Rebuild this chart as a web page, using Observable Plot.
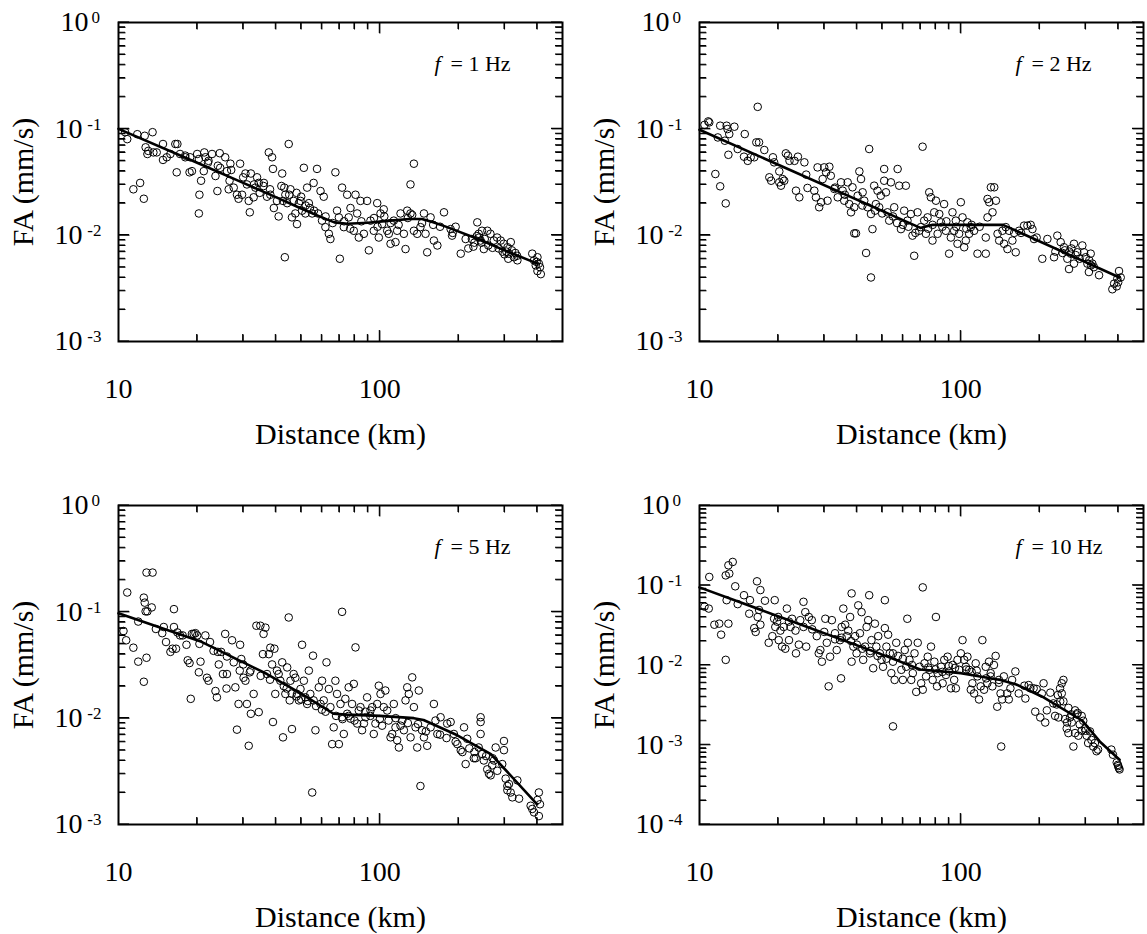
<!DOCTYPE html>
<html><head><meta charset="utf-8">
<script src="https://cdn.jsdelivr.net/npm/d3@7"></script>
<script src="https://cdn.jsdelivr.net/npm/@observablehq/plot@0.6"></script>
<style>
html,body{margin:0;padding:0;background:#fff;}
#wrap{position:relative;width:1147px;height:934px;overflow:hidden;background:#fff;}
.panel{position:absolute;}
.panel svg{max-width:none !important;}
.panel svg, .panel svg text{font-family:"Liberation Serif","Times New Roman",Times,serif !important;}
g[aria-label="flabel"] text{letter-spacing:1.2px;}
</style></head><body><div id="wrap"></div>
<script>
// ---------- DATA ----------
const xTickLabels = [10, 100];
const xMajorTicks = [100];
const xMinorTicks = [20,30,40,50,60,70,80,90,200,300,400];
const yExpTop = [0,-1,-2,-3];
const yExp10Hz = [0,-1,-2,-3,-4];
const freqLabels = ["1","2","5","10"];

// [distance (km), FA (mm/s)]
const fa1Hz = [[10.6,0.093],[10.8,0.080],[11.8,0.089],[12.6,0.086],[13.5,0.093],[12.7,0.067],[12.9,0.058],[13.0,0.062],[13.6,0.060],[11.4,0.027],[12.1,0.031],[12.5,0.022],[14.0,0.060],[14.8,0.072],[14.8,0.051],
[15.3,0.054],[15.8,0.058],[16.5,0.072],[16.8,0.072],[16.7,0.039],[17.2,0.058],[18.0,0.054],[18.8,0.054],[19.1,0.040],[18.7,0.039],[20.0,0.058],[20.3,0.052],[20.4,0.024],[20.3,0.016],[20.7,0.0325],[21.3,0.060],[21.5,0.054],[21.2,0.040],[22.1,0.050],[22.8,0.058],[23.5,0.036],[23.9,0.026],[24.4,0.059],[24.5,0.043],[25.6,0.054],[26.0,0.040],[26.4,0.027],[26.6,0.0325],[26.8,0.047],[27.6,0.028],[28.4,0.024],[28.8,0.022],[29.2,0.047],[29.7,0.024],[30.6,0.038],[31.0,0.030],[31.5,0.021],[31.8,0.0164],[32.1,0.038],[32.9,0.0227],[33.4,0.028],[33.9,0.035],[34.4,0.031],[34.7,0.025],[35.9,0.029],[37.0,0.023],[37.6,0.060],[38.1,0.024],[38.7,0.054],[39.3,0.018],[39.0,0.042],[40.4,0.021],[41.0,0.015],[42.3,0.038],[42.6,0.021],[43.1,0.028],[43.5,0.024],[43.3,0.0062],[44.2,0.020],[44.8,0.072],[45.5,0.027],[46.1,0.0147],[46.8,0.021],[47.5,0.016],[48.2,0.0127],[49.0,0.020],[49.7,0.021],[50.4,0.017],[51.2,0.043],[51.9,0.016],[52.7,0.028],[53.5,0.020],[55.1,0.016],[55.8,0.031],[57.5,0.042],[59.3,0.026],[60.1,0.0137],[61.0,0.023],[61.9,0.0119],[63.8,0.0103],[64.7,0.0092],[67.6,0.039],[68.6,0.017],[69.7,0.0147],[70.3,0.0060],[71.7,0.028],[72.8,0.0119],[75.0,0.024],[76.0,0.0147],[77.2,0.018],[79.5,0.011],[80.7,0.024],[81.9,0.016],[83.1,0.0095],[84.3,0.021],[86.9,0.0103],[89.4,0.021],[90.8,0.0072],[92.1,0.0137],[94.8,0.011],[97.7,0.020],[99.1,0.0095],[100.6,0.016],[102,0.0127],[103.5,0.0175],[106.7,0.011],[108.2,0.0103],[109.9,0.0083],[113.1,0.0137],[114.8,0.0086],[116.5,0.011],[120,0.016],[123.6,0.0103],[125.4,0.0074],[127.3,0.017],[131,0.016],[131,0.030],[135,0.047],[135,0.011],[139,0.0103],[143,0.0119],[147.5,0.016],[149.6,0.0103],[151.8,0.0069],[156.4,0.0147],[161,0.0089],[166,0.008],[176,0.0164],[186.6,0.0114],[189,0.0099],[204,0.0067],[213,0.0092],
[236,0.0132],[239,0.0103],[243,0.0089],[246,0.011],[258,0.011],[265,0.0103],[273,0.0089],[250,0.0074],[281,0.0095],[290,0.0089],[298,0.0083],[308,0.0077],[317,0.0086],[312,0.0067],[326,0.0062],[336,0.0058],[383,0.0067],[389,0.0058],[401,0.0062],[406,0.0054],[410,0.0050],[413,0.0043],[401,0.0046],
[225,0.0092],[230,0.0085],[235,0.0098],[228,0.0078],[240,0.0095],[245,0.0085],[252,0.0092],[218,0.0075],[260,0.0080],[270,0.0076],[285,0.0075],[295,0.0070],[305,0.0070],[320,0.0072],[330,0.0068],[300,0.0066],[310,0.0060],[335,0.0064],[395,0.0052],[398,0.0056],
[85,0.0135],[95,0.0145],[98,0.012],[104,0.015],[110,0.013],[118,0.0125],[128,0.0145],[133,0.0155],[145,0.013],[160,0.0125],[170,0.012],[195,0.012],[190,0.0105],
[45,0.024],[48,0.025],[50,0.023],[52,0.019],[54,0.018],[56,0.017],[58,0.016],[62,0.015],[66,0.013],[73,0.0135],[77,0.0115],[30,0.035],[33,0.030],[36,0.031],[38,0.027],[42,0.029],[24,0.045],[27,0.041],[22,0.048],[18,0.056]];

const fa2Hz = [[10.45,0.109],[10.8,0.1175],[10.9,0.115],[11.5,0.0376],[11.75,0.083],[12.0,0.107],[12.0,0.0288],[12.5,0.0773],[12.6,0.0199],[12.7,0.107],[12.8,0.0995],[13.0,0.0893],[12.9,0.057],[13.6,0.1047],[14.0,0.0646],[14.9,0.0893],[14.8,0.0547],[15.3,0.050],[15.7,0.054],[16.2,0.054],[16.5,0.0746],[16.7,0.161],[16.9,0.0746],[17.7,0.0632],[18.5,0.035],[18.8,0.0325],[19.1,0.054],[19.3,0.0484],[20.2,0.0314],[20.2,0.0398],[20.5,0.0292],[20.8,0.0337],[21.1,0.0325],[21.4,0.0588],[21.8,0.0559],[22.1,0.050],[23.1,0.050],[23.4,0.0262],[23.8,0.0547],[24.1,0.0227],[25.2,0.0484],[25.6,0.0371],[25.9,0.0278],[27.5,0.0262],[27.9,0.0227],[28.3,0.0434],[28.7,0.0183],[29.2,0.0204],[29.6,0.0337],[30.0,0.0434],[30.5,0.039],[30.9,0.0211],[31.4,0.044],[31.8,0.0362],[32.8,0.0272],[33.8,0.0227],[34.8,0.0314],[35.3,0.0262],[35.8,0.0211],[36.9,0.0314],[37.4,0.0196],[38.0,0.0164],[38.5,0.0282],[39.1,0.0183],[39.1,0.0104],[39.7,0.0104],[40.3,0.0235],[40.9,0.0398],[41.5,0.0337],[42.1,0.0253],[42.7,0.0211],[43.4,0.0068],[44.0,0.0183],[44.6,0.0646],[45.3,0.0040],[45.3,0.0158],[45.9,0.0114],[46.6,0.0292],[47.3,0.0196],[48.0,0.0262],[48.7,0.0183],[49.4,0.0235],[50.9,0.0419],[50.9,0.0325],[51.7,0.0253],[52.4,0.0164],[53.2,0.0137],[54.0,0.0314],[55.6,0.0183],[57.3,0.0419],[58.1,0.0292],[59.0,0.0114],[60.7,0.0170],[61.6,0.0292],[62.5,0.0137],[64.4,0.0158],[65.3,0.0099],[66.3,0.0064],[68.3,0.0164],[69.3,0.011],[70.3,0.0119],[71.4,0.0679],[72.4,0.0137],[73.5,0.0103],[74.6,0.0147],[75.7,0.0253],[76.8,0.0227],[77.9,0.0089],[79.1,0.0164],[80.3,0.0211],[81.5,0.0103],[82.7,0.0158],[83.9,0.0132],[86.3,0.0196],[87.6,0.011],[90.2,0.0067],[91.6,0.0095],[92.9,0.0164],[94.3,0.011],[95.7,0.0137],[97.1,0.0083],[98.5,0.0103],[100,0.0204],[101.5,0.0147],[103,0.0077],[104.5,0.0089],[106,0.0132],[107.6,0.0103],[109.2,0.0119],[112.4,0.011],[115.8,0.0067],[124.6,0.0095],[124.6,0.0067],[126.5,0.0147],[126.5,0.0219],[128.4,0.0204],[130.3,0.0282],[132.2,0.0164],[134.2,0.0282],[136.2,0.0211],[138.2,0.0103],[140.2,0.0089],[144.3,0.011],[146.4,0.0083],[148.6,0.0119],[150.8,0.0074],[153,0.011],[157.5,0.0089],[162.2,0.0069],[167,0.011],[174.6,0.0123],[179.8,0.0123],[187.9,0.0114],[190.6,0.0092],[205,0.0060],[214.4,0.0092],[227.3,0.0062],[234,0.0099],[241,0.0086],[248,0.0077],[255.6,0.0060],[259.4,0.0048],[263.3,0.0067],[271,0.0083],[271,0.0054],[279,0.0069],[291.7,0.0080],[296,0.0069],[300.5,0.0062],[305,0.0054],[309,0.0045],[314,0.0067],[318.5,0.0054],[323,0.0050],[338,0.0042],[380,0.0031],[386,0.0035],[397,0.0039],[403,0.0046],[409,0.0040],
[230,0.0070],[245,0.0068],[250,0.0072],[260,0.0070],[265,0.0075],[275,0.0065],[285,0.0060],[310,0.0058],[315,0.0052],[400,0.0036],[395,0.0033],
[33,0.028],[36,0.024],[42,0.019],[47,0.017],[50,0.016],[55,0.015],[57,0.013],[60,0.0125],[63,0.012],[67,0.0105],[75,0.0115],[78,0.0125],[85,0.012],[88,0.0135],[96,0.012],[105,0.0115],[110,0.0125],[118,0.012],[160,0.0105],[170,0.0105],[185,0.0125],[195,0.0095]];

const fa5Hz = [[10.45,0.066],[10.7,0.054],[10.8,0.152],[11.4,0.046],[11.9,0.081],[11.9,0.034],[12.5,0.022],[12.5,0.136],[12.6,0.122],[12.7,0.101],[12.8,0.234],[12.8,0.037],[12.9,0.101],[13.5,0.234],[13.4,0.110],[13.9,0.069],[14.7,0.063],[14.9,0.072],[15.2,0.052],[15.8,0.042],[16.1,0.045],[16.3,0.106],[16.3,0.072],[16.6,0.045],[16.8,0.064],[17.2,0.060],[17.6,0.060],[18.2,0.049],[18.4,0.035],[18.7,0.033],[18.9,0.0152],[19.1,0.062],[19.4,0.062],[19.7,0.063],[20.0,0.060],[20.3,0.027],[20.4,0.050],[20.6,0.034],[21.5,0.060],[21.8,0.024],[22.1,0.0225],[22.4,0.052],[23.1,0.043],[23.5,0.018],[23.8,0.0157],[24.2,0.032],[24.7,0.042],[25.1,0.026],[25.6,0.062],[25.9,0.019],[26.0,0.026],[27.2,0.054],[27.6,0.0335],[28.0,0.0195],[28.4,0.0078],[28.8,0.0136],[29.1,0.028],[29.2,0.049],[29.5,0.036],[30.1,0.024],[30.6,0.0225],[31.0,0.0136],[31.5,0.0055],[31.8,0.027],[32.1,0.011],[32.9,0.0169],[33.7,0.074],[34.4,0.0114],[34.9,0.074],[35.7,0.040],[35.9,0.062],[36.5,0.071],[37.0,0.026],[37.6,0.040],[38.1,0.046],[38.7,0.032],[39.0,0.0092],[39.5,0.045],[39.8,0.0169],[40.4,0.028],[41.0,0.026],[41.6,0.0225],[42.3,0.0335],[42.6,0.0066],[42.9,0.020],[43.5,0.0169],[44.2,0.030],[44.8,0.0885],[45.2,0.0147],[45.5,0.0225],[46.1,0.0079],[46.8,0.026],[47.5,0.024],[48.2,0.0169],[49.0,0.0147],[49.7,0.0188],[50.4,0.049],[51.2,0.0225],[51.9,0.0157],[52.7,0.0136],[53.5,0.028],[54.2,0.0169],[55.1,0.0020],[55.5,0.0387],[55.8,0.0147],[56.7,0.0077],[58.4,0.0195],[59.3,0.0136],[60.1,0.0225],[61.0,0.0147],[62.5,0.0335],[63.8,0.0188],[64.7,0.0127],[65.7,0.0057],[66.6,0.0082],[67.6,0.0225],[68.6,0.0169],[69.7,0.0057],[70.7,0.0136],[71.7,0.0102],[71.7,0.100],[72.8,0.0071],[73.8,0.0152],[75.0,0.011],[76.0,0.0195],[77.2,0.0099],[78.3,0.0136],[79.5,0.021],[80.7,0.0463],[81.9,0.0089],[83.1,0.0118],[84.3,0.0127],[85.5,0.0077],[86.9,0.0089],[88.1,0.0102],[89.4,0.0157],[92.1,0.0118],[93.5,0.0127],[94.8,0.0071],[96.2,0.0089],[97.7,0.0136],[99.1,0.0202],[100.6,0.0169],[102,0.0085],[103.5,0.0127],[105,0.0182],[106.7,0.0118],[109.9,0.0066],[111.5,0.0071],[113.1,0.0136],[114.8,0.0082],[116.5,0.0062],[118.3,0.0053],[121.8,0.0095],[123.6,0.0077],[125.4,0.0147],[127.3,0.0195],[129.1,0.0169],[131.1,0.0066],[133,0.0242],[135,0.0127],[137,0.0082],[139,0.0053],[141,0.0182],[143,0.0023],[145,0.0077],[147.5,0.0066],[151.8,0.0055],[156.4,0.0082],[161,0.0136],[163.3,0.0095],[166,0.0071],[170.8,0.0102],[181,0.0089],[186.6,0.0092],[192,0.0071],[198,0.0057],[204,0.0050],[207,0.0048],[210,0.0082],[213,0.0037],[216,0.0064],[229,0.0042],[232.6,0.0042],[239,0.0053],[243,0.0102],[243,0.0092],[243,0.0071],[246.5,0.0046],[250,0.0040],[257.6,0.0033],[261.6,0.0030],[265.5,0.0029],[269,0.0036],[273.5,0.0040],[277.5,0.0053],[281.5,0.0032],
[298.5,0.0061],[298.5,0.0050],[294,0.0037],[303,0.0027],[307.6,0.0023],[307.6,0.0021],[312,0.0024],[316.7,0.0020],[321.4,0.0018],[336,0.0026],[341,0.00175],[377.6,0.0015],[383,0.0014],[389,0.0013],[401,0.0017],[406,0.0020],[410,0.00155],[406,0.0012],
[44,0.019],[46,0.017],[48,0.016],[50,0.015],[53,0.0145],[57,0.013],[60,0.012],[62,0.0115],[68,0.0105],[72,0.0098],[76,0.0105],[80,0.0095],[88,0.0115],[92,0.0105],[100,0.0098],[108,0.0095],[115,0.0100],[120,0.0085],[128,0.009],[140,0.0088],[150,0.0075],[170,0.0070],[180,0.0065],[195,0.0060],[220,0.0052],[230,0.0048],[255,0.0044],[270,0.0042],[30,0.032],[32,0.028],[35,0.025],[38,0.023],[26,0.038],[24,0.042]];

const fa10Hz = [[10.45,0.054],[10.85,0.051],[10.9,0.127],[11.4,0.032],[11.9,0.033],[12.1,0.024],[12.6,0.0116],[12.6,0.133],[12.9,0.033],[12.7,0.065],[12.9,0.178],[13.0,0.140],[13.4,0.196],[13.7,0.097],[14.0,0.058],[14.8,0.075],[15.5,0.044],[15.6,0.065],[16.2,0.029],[16.4,0.026],[16.6,0.112],[16.7,0.040],[16.9,0.049],[17.1,0.087],[17.1,0.032],[17.8,0.064],[18.4,0.019],[19.0,0.023],[19.3,0.038],[19.4,0.065],[19.5,0.030],[19.8,0.035],[20.1,0.0205],[20.4,0.027],[20.7,0.017],[21.0,0.030],[21.3,0.016],[21.6,0.051],[22.0,0.0205],[22.3,0.030],[22.6,0.038],[23.3,0.027],[23.4,0.014],[24.0,0.018],[24.3,0.0365],[25.0,0.062],[25.4,0.046],[25.6,0.017],[26.2,0.040],[26.9,0.0365],[28.1,0.023],[28.6,0.014],[29.0,0.0154],[29.4,0.011],[30.3,0.038],[30.7,0.019],[31.2,0.0054],[31.6,0.0127],[32.1,0.0365],[33.0,0.025],[33.5,0.0154],[34.5,0.0205],[34.8,0.0068],[35.0,0.030],[35.5,0.051],[36.1,0.032],[36.6,0.023],[37.1,0.027],[37.7,0.040],[38.2,0.079],[38.2,0.011],[38.8,0.017],[39.4,0.023],[39.9,0.014],[40.5,0.056],[41.1,0.025],[41.7,0.046],[42.3,0.0116],[43.0,0.017],[43.6,0.030],[44.2,0.0365],[44.6,0.075],[44.9,0.014],[45.5,0.0205],[46.2,0.0091],[46.9,0.033],[47.5,0.017],[48.3,0.023],[49.0,0.014],[49.7,0.0116],[50.4,0.0095],[51.2,0.065],[51.2,0.029],[51.9,0.017],[52.7,0.024],[53.5,0.014],[54.2,0.0079],[55.0,0.0017],[55.0,0.011],[55.8,0.0065],[56.6,0.019],[57.5,0.013],[59.2,0.0087],[60.0,0.0065],[61.0,0.0154],[61.8,0.0095],[62.4,0.038],[62.7,0.019],[63.6,0.0116],[64.6,0.0065],[65.5,0.0079],[66.5,0.014],[67.5,0.0046],[68.4,0.019],[69.5,0.0095],[70.5,0.0059],[71.5,0.094],[71.5,0.0049],[72.6,0.0105],[73.6,0.0072],[74.7,0.0127],[75.8,0.0087],[76.9,0.017],[78.0,0.0065],[79.2,0.011],[80.3,0.040],[81.1,0.0054],[81.5,0.0079],[84.0,0.0095],[85.2,0.0059],[86.4,0.0116],[87.7,0.0075],[89.0,0.0127],[90.3,0.0083],[91.6,0.0051],[93.0,0.010],[94.3,0.0065],[95.7,0.0051],[97.1,0.0116],[98.6,0.0087],[100,0.014],[101.5,0.0205],[103,0.0116],[104.5,0.0095],[106,0.0127],[107.6,0.0087],[109.2,0.0049],[110.7,0.0059],[112.4,0.0044],[114,0.0105],[115.7,0.0072],[117.4,0.0037],[119.1,0.0054],[120.9,0.0205],[122.7,0.0049],[124.5,0.0095],[126.3,0.0059],[128.2,0.011],[130.1,0.0079],[132,0.0054],[133.9,0.010],[135.9,0.013],[137.8,0.0030],[139.9,0.0065],[141.9,0.0044],[142.7,0.00095],[143.9,0.0037],[146.1,0.0072],[150.4,0.0044],[152.6,0.0037],[154.8,0.0051],[157.1,0.0065],[161.7,0.0083],[166.6,0.0044],[176.6,0.0038],[181.8,0.0056],[184.5,0.0051],[189.9,0.0051],[192.6,0.0026],[201.3,0.0022],[204.2,0.0044],[207.3,0.0059],[210.3,0.0019],[213.4,0.0027],[226,0.0033],[229.4,0.0023],[232.8,0.0032],[236.3,0.0022],[239.7,0.0051],[243.3,0.0059],[243.3,0.0044],[246.9,0.0065],[246.9,0.0035],[250.5,0.0021],[254.2,0.0016],[258,0.0014],[258,0.0029],[261.8,0.0022],[265.7,0.0019],[269.6,0.00095],[273.6,0.0027],[273.6,0.0014],[277.6,0.0024],[281.7,0.0013],[290,0.0015],[294,0.0020],[298.6,0.0016],[303,0.0013],[307,0.00105],[312,0.00147],[316,0.00115],[321,0.00095],[325.7,0.00105],[330.5,0.00083],[335,0.00087],[376.6,0.00087],[382,0.00075],[399,0.00056],[402.6,0.00051],[405,0.00049],
[280,0.0025],[285,0.0018],[300,0.0015],[290,0.0023],[265,0.0024],[240,0.0035],[255,0.0019],[395,0.0006],[400,0.00054],[175,0.0055],[195,0.0050],[220,0.0045],[235,0.0042],
[60,0.012],[65,0.010],[75,0.0093],[80,0.0088],[85,0.0082],[90,0.0097],[95,0.0092],[105,0.0088],[110,0.0082],[115,0.0085],[125,0.0068],[130,0.0072],[140,0.0060],[45,0.015],[48,0.013],[52,0.012],[55,0.014],[42,0.016],[40,0.018],[38,0.020],[35,0.022],[33,0.021],[30,0.026],[27,0.028],[25,0.030],[22,0.035],[20,0.040]];

// fitted curves [distance, FA]
const fit1Hz = [[10,0.1],[20,0.048],[30,0.031],[40,0.0228],[50,0.0178],[60,0.0147],[67,0.0132],[75,0.0128],[90,0.0131],[110,0.0137],[130,0.0142],[145,0.0142],[160,0.0132],[181,0.0119],[243,0.0090],[300,0.0072],[401,0.0054]];
const fit2Hz = [[10,0.098],[70,0.0117],[78,0.0125],[145,0.0125],[405,0.0040]];
const fit5Hz = [[10,0.097],[20.5,0.053],[37,0.026],[50,0.017],[66.5,0.011],[75,0.0108],[100,0.0105],[135,0.0100],[147,0.0096],[198,0.0069],[266,0.0046],[400,0.00155]];
const fit10Hz = [[10,0.094],[22,0.0365],[49.5,0.0137],[70,0.0088],[100,0.0079],[142,0.0065],[163,0.0057],[205,0.0040],[292,0.0020],[340,0.0011],[405,0.00065]];

// ---------- DRAW ----------
const FONT = "'Liberation Serif','Times New Roman',Times,serif";
const ML = 118, MR = 4, MT = 22, PW = 444, PH = 319, MB = 115;
const W = ML + PW + MR, H = MT + PH + MB;
const MAJ = 11, MIN = 7;
const X_DOMAIN = [10, 500];

function panel(cfg) {
  const exps = cfg.exps;
  const yMin = Math.pow(10, d3.min(exps));
  const yMajor = exps.map(e => Math.pow(10, e));
  const yMinor = [];
  exps.filter(e => e < 0).forEach(e => { for (let k = 2; k <= 9; k++) yMinor.push(k * Math.pow(10, e)); });
  const expZero = exps.filter(e => e === 0);
  const expNeg = exps.filter(e => e < 0);

  // tick length expressed as a factor along each log axis (pixels -> decades)
  const decY = -d3.min(exps), decX = Math.log10(X_DOMAIN[1] / X_DOMAIN[0]);
  const fy = len => Math.pow(10, len * decY / PH);
  const fx = len => Math.pow(10, len * decX / PW);
  const tk = {stroke: "black", strokeWidth: 1.1};
  const xTicks = (vals, len) => [
    Plot.link(vals, {...tk, x1: d => d, x2: d => d, y1: () => yMin, y2: () => yMin * fy(len)}),
    Plot.link(vals, {...tk, x1: d => d, x2: d => d, y1: () => 1, y2: () => 1 / fy(len)})
  ];
  const yTicks = (vals, len) => [
    Plot.link(vals, {...tk, y1: d => d, y2: d => d, x1: () => X_DOMAIN[0], x2: () => X_DOMAIN[0] * fx(len)}),
    Plot.link(vals, {...tk, y1: d => d, y2: d => d, x1: () => X_DOMAIN[1], x2: () => X_DOMAIN[1] / fx(len)})
  ];

  const chart = Plot.plot({
    width: W, height: H,
    marginLeft: ML, marginRight: MR, marginTop: MT, marginBottom: MB,
    x: {type: "log", domain: X_DOMAIN, axis: null, label: null},
    y: {type: "log", domain: [yMin, 1], axis: null, label: null},
    style: {fontFamily: FONT, color: "black", background: "none", overflow: "visible"},
    marks: [
      Plot.dot(cfg.data, {x: d => d[0], y: d => d[1], r: 3.8, stroke: "black", fill: "none", strokeWidth: 1}),
      Plot.line(cfg.fit, {x: d => d[0], y: d => d[1], stroke: "black", strokeWidth: 2.6}),
      ...xTicks(xMajorTicks, MAJ), ...xTicks(xMinorTicks, MIN),
      ...yTicks(yMajor, MAJ), ...yTicks(yMinor, MIN),
      Plot.frame({stroke: "black", strokeWidth: 2}),
      Plot.text(xTickLabels, {x: d => d, text: d => String(d), frameAnchor: "bottom", lineAnchor: "middle", textAnchor: "middle", dy: 48, fontSize: 28}),
      Plot.text(expZero, {y: e => Math.pow(10, e), text: () => "10", frameAnchor: "left", lineAnchor: "middle", textAnchor: "end", dx: -30, dy: 0, fontSize: 28}),
      Plot.text(expZero, {y: e => Math.pow(10, e), text: e => String(e), frameAnchor: "left", lineAnchor: "middle", textAnchor: "start", dx: -27, dy: -4.5, fontSize: 17}),
      Plot.text(expNeg, {y: e => Math.pow(10, e), text: () => "10", frameAnchor: "left", lineAnchor: "middle", textAnchor: "end", dx: -36, dy: 0, fontSize: 28}),
      Plot.text(expNeg, {y: e => Math.pow(10, e), text: e => String(e), frameAnchor: "left", lineAnchor: "middle", textAnchor: "end", dx: -17, dy: -4.5, fontSize: 17}),
      Plot.text(["Distance (km)"], {frameAnchor: "bottom", lineAnchor: "middle", textAnchor: "middle", dy: 93, fontSize: 30}),
      Plot.text(["FA (mm/s)"], {frameAnchor: "left", lineAnchor: "middle", textAnchor: "middle", rotate: -90, dx: -95, fontSize: 30}),
      Plot.text([cfg.label], {frameAnchor: "top-left", lineAnchor: "middle", textAnchor: "start", text: () => "f", fontStyle: "italic", dx: 316, dy: 41, fontSize: 22}),
      Plot.text([cfg.label], {frameAnchor: "top-left", lineAnchor: "middle", textAnchor: "start", text: d => "= " + d + " Hz", dx: 332, dy: 41, fontSize: 22, ariaLabel: "flabel"})
    ]
  });

  // backup: same ticks as <path> elements, placed with a log scale rebuilt from Plot's own x/y scale
  try {
    const dx = chart.scale("x"), dyS = chart.scale("y");
    const sx = d3.scaleLog().domain(dx.domain).range(dx.range);
    const sy = d3.scaleLog().domain(dyS.domain).range(dyS.range);
    const [xa, xb] = dx.range, [ya, yb] = dyS.range;
    const yBot = Math.max(ya, yb), yTop = Math.min(ya, yb), xL = Math.min(xa, xb), xR = Math.max(xa, xb);
    let p = "";
    const addX = (vals, len) => vals.forEach(v => { const px = sx(v);
      p += `M${px},${yBot}V${yBot - len}M${px},${yTop}V${yTop + len}`; });
    const addY = (vals, len) => vals.forEach(v => { const py = sy(v);
      p += `M${xL},${py}H${xL + len}M${xR},${py}H${xR - len}`; });
    addX(xMajorTicks, MAJ); addX(xMinorTicks, MIN); addY(yMajor, MAJ); addY(yMinor, MIN);
    const ns = "http://www.w3.org/2000/svg";
    const path = document.createElementNS(ns, "path");
    path.setAttribute("d", p);
    path.setAttribute("fill", "none");
    path.setAttribute("stroke", "black");
    path.setAttribute("stroke-width", "1.1");
    chart.appendChild(path);
  } catch (e) {}

  const div = document.createElement("div");
  div.className = "panel";
  div.style.left = cfg.left + "px";
  div.style.top = cfg.top + "px";
  div.appendChild(chart);
  document.getElementById("wrap").appendChild(div);
}

panel({data: fa1Hz, fit: fit1Hz, exps: yExpTop, label: freqLabels[0], left: 0, top: 0});
panel({data: fa2Hz, fit: fit2Hz, exps: yExpTop, label: freqLabels[1], left: 581, top: 0});
panel({data: fa5Hz, fit: fit5Hz, exps: yExpTop, label: freqLabels[2], left: 0, top: 483});
panel({data: fa10Hz, fit: fit10Hz, exps: yExp10Hz, label: freqLabels[3], left: 581, top: 483});
</script>
</body></html>
